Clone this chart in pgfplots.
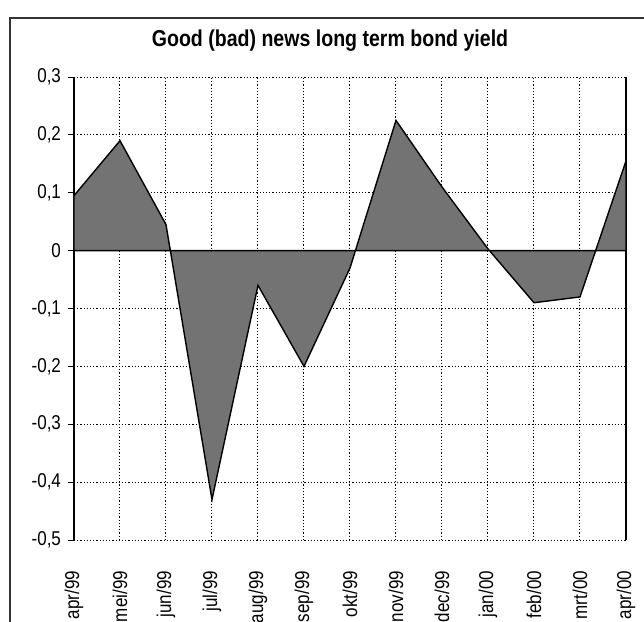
\documentclass[border=0pt]{standalone}
\usepackage{pgfplots}
\pgfplotsset{compat=1.18}
\usepackage{fontspec}
\setmainfont{Liberation Sans}[FakeStretch=0.85]
\begin{document}
\begin{tikzpicture}[x=1pt,y=1pt]
\useasboundingbox (0,0) rectangle (322,-311);
\draw[line width=0.6pt, black!80] (5,-330) -- (5,-9) -- (340,-9);
\node[font=\bfseries\fontsize{11.5}{13}\selectfont] at (165,-20.5) {Good (bad) news long term bond yield};
\begin{axis}[
  at={(37pt,-270pt)}, anchor=south west,
  scale only axis, width=276pt, height=231.5pt,
  xmin=0, xmax=12, ymin=-0.5, ymax=0.3,
  xtick={0,...,12},
  xticklabels={apr/99,mei/99,jun/99,jul/99,aug/99,sep/99,okt/99,nov/99,dec/99,jan/00,feb/00,mrt/00,apr/00},
  ytick={-0.5,-0.4,-0.3,-0.2,-0.1,0,0.1,0.2,0.3},
  yticklabel={\pgfmathprintnumber[fixed,precision=1,use comma,assume math mode=true]{\tick}},
  tick label style={font=\fontsize{10}{11}\selectfont, text=black},
  xticklabel style={rotate=90, anchor=east},
  xticklabel shift=9pt,
  yticklabel shift=0pt,
  tick pos=left,
  tick align=outside,
  major tick length=3pt,
  xtick style={draw=none},
  ytick style={black, line width=0.5pt},
  grid=major,
  major grid style={black, line width=0.5pt, dash pattern=on 0.6pt off 1pt},
  separate axis lines,
  x axis line style={draw=none},
  y axis line style={black, line width=0.6pt},
]
\addplot[fill=black!55, draw=black, line width=0.7pt] coordinates {
(0,0) (0,0.095) (1,0.19) (2,0.045) (3,-0.43) (4,-0.06) (5,-0.20) (6,-0.03) (7,0.225) (8,0.11) (9,0.003) (10,-0.09) (11,-0.08) (12,0.155) (12,0)
} -- cycle;
\addplot[draw=black, line width=0.7pt] coordinates {(0,0) (12,0)};
\end{axis}
\end{tikzpicture}
\end{document}
